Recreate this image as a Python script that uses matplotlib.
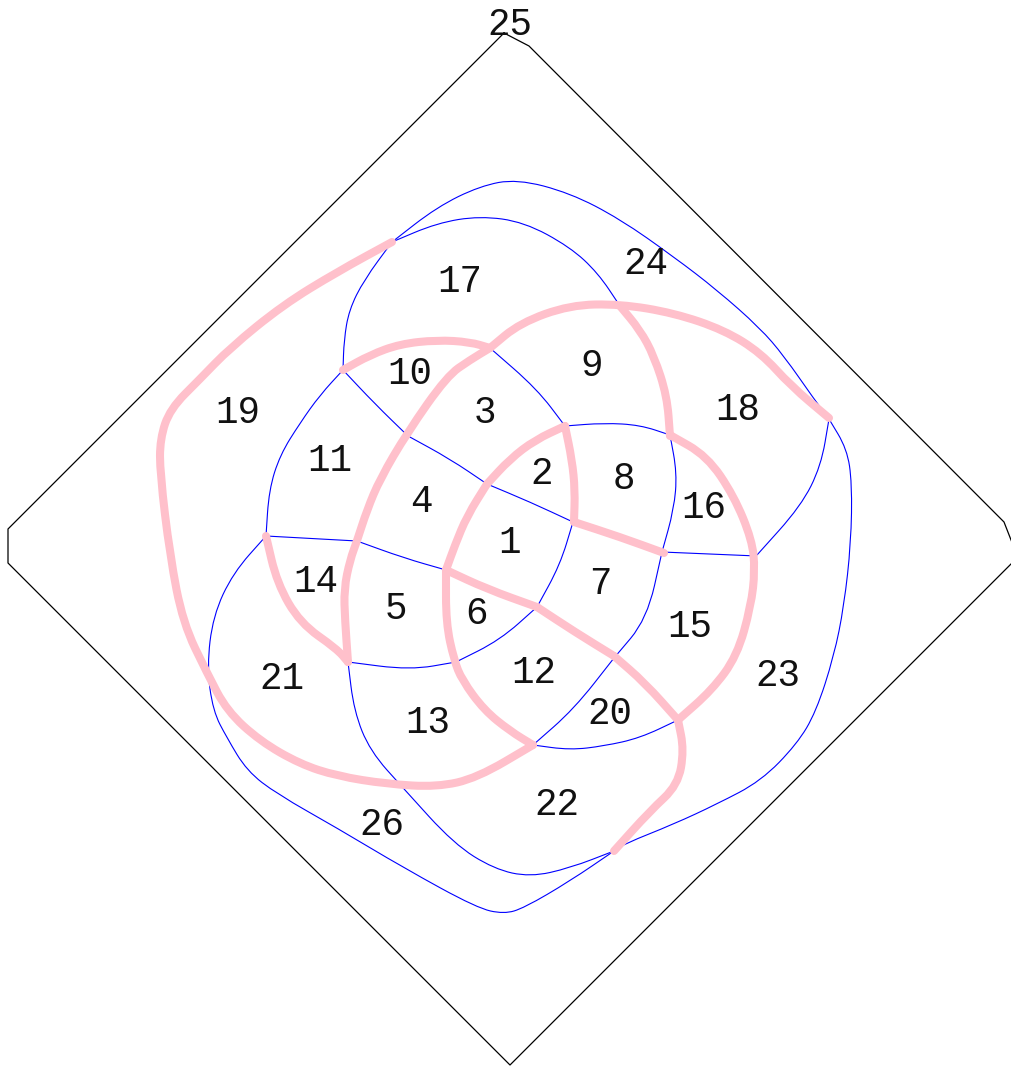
import numpy as np
import matplotlib
matplotlib.use('Agg')
import matplotlib.pyplot as plt
from matplotlib.path import Path
from matplotlib.patches import PathPatch

# region labels and their centres (pixel coords, y down)
region_labels = [str(i) for i in range(1, 27)]
label_x = [510, 542, 485, 421, 396, 477, 600, 624, 592, 410, 330, 534, 428,
           316, 690, 704, 460, 738, 238, 610, 282, 557, 778, 646, 510, 382]
label_y = [543, 474, 413, 502, 609, 614, 584, 479, 366, 374, 461, 673, 723,
           582, 627, 508, 282, 410, 413, 714, 679, 805, 676, 264, 25, 825]

# outer frame
outline_x = [504, 529, 1004, 1013, 1013, 510, 8, 8, 504]
outline_y = [33, 46, 522, 545, 562, 1065, 563, 529, 33]

# thin blue edges
blue_edges = [
    [(392, 242), (437, 207), (480, 186), (517, 179), (570, 193), (620, 219), (674, 257),
     (717, 290), (760, 328), (784, 356), (814, 399), (829, 419)],
    [(392, 242), (437, 223), (480, 216), (524, 222), (570, 247), (598, 273), (620, 306)],
    [(392, 242), (364, 280), (349, 310), (344, 340), (343, 370)],
    [(343, 370), (320, 395), (300, 423), (280, 455), (269, 490), (266, 536)],
    [(343, 370), (375, 404), (408, 436)],
    [(408, 436), (450, 459), (487, 484)],
    [(487, 484), (530, 502), (573, 522)],
    [(573, 522), (560, 565), (537, 607)],
    [(537, 607), (500, 640), (456, 662)],
    [(456, 662), (410, 670), (348, 662)],
    [(266, 536), (357, 541)],
    [(357, 541), (404, 558), (446, 570)],
    [(490, 348), (537, 389), (565, 426)],
    [(565, 426), (604, 423), (640, 425), (670, 435)],
    [(670, 435), (677, 473), (674, 509), (662, 552)],
    [(662, 552), (757, 556)],
    [(662, 552), (647, 619), (614, 658)],
    [(614, 658), (574, 709), (533, 745)],
    [(678, 720), (640, 738), (604, 746), (570, 750), (533, 745)],
    [(829, 419), (821, 466), (801, 506), (757, 555)],
    [(348, 662), (354, 711), (370, 751), (404, 789), (454, 844), (494, 869), (530, 877),
     (570, 868), (614, 851)],
    [(829, 419), (847, 449), (852, 483), (851, 543), (844, 606), (834, 656), (816, 712),
     (797, 744), (761, 781), (717, 804), (674, 824), (624, 844), (614, 851)],
    [(614, 851), (570, 881), (524, 908), (504, 914), (477, 908), (404, 868), (337, 828),
     (277, 794), (247, 771), (227, 738), (213, 711), (207, 667), (213, 616), (233, 573),
     (266, 536)],
]

# thick pink edges
pink_edges = [
    [(392, 242), (337, 272), (283, 305), (230, 348), (200, 379), (170, 409), (160, 439),
     (160, 473), (170, 556), (183, 623), (207, 673), (227, 711), (260, 741), (300, 764),
     (337, 776), (387, 784), (437, 787), (477, 778), (533, 745)],
    [(343, 370), (370, 355), (400, 344), (437, 340), (470, 342), (490, 348)],
    [(348, 662), (345, 620), (344, 589), (350, 560), (357, 541), (367, 510), (380, 479),
     (407, 433), (447, 376), (470, 360), (490, 348)],
    [(490, 348), (520, 323), (570, 305), (620, 304), (674, 313), (724, 330), (761, 353),
     (791, 386), (829, 418)],
    [(620, 306), (640, 330), (654, 356), (667, 396), (670, 436)],
    [(670, 435), (707, 456), (734, 496), (752, 540), (755, 570), (751, 606), (737, 656),
     (712, 690), (678, 720)],
    [(678, 720), (684, 750), (678, 785), (650, 811), (614, 851)],
    [(533, 745), (510, 731), (484, 710), (462, 680), (454, 660), (446, 623), (446, 570)],
    [(446, 570), (455, 545), (467, 516), (487, 484)],
    [(487, 484), (510, 459), (535, 440), (565, 426)],
    [(565, 426), (572, 460), (575, 490), (574, 522)],
    [(574, 522), (620, 537), (664, 553)],
    [(446, 570), (487, 589), (537, 607)],
    [(537, 607), (575, 632), (614, 656)],
    [(614, 656), (645, 683), (678, 720)],
    [(266, 536), (277, 583), (300, 623), (337, 649), (348, 662)],
]


def smooth_path(pts):
    # quadratic bezier through midpoints, read points act as control points
    pts = np.asarray(pts, float)
    if len(pts) < 3:
        return Path(pts)
    verts = [pts[0], (pts[0] + pts[1]) / 2]
    codes = [Path.MOVETO, Path.LINETO]
    for i in range(1, len(pts) - 1):
        verts += [pts[i], (pts[i] + pts[i + 1]) / 2]
        codes += [Path.CURVE3, Path.CURVE3]
    verts.append(pts[-1])
    codes.append(Path.LINETO)
    return Path(verts, codes)


fig = plt.figure(figsize=(10.11, 10.67), dpi=100)
ax = fig.add_axes([0, 0, 1, 1])
ax.set_xlim(0, 1011)
ax.set_ylim(1067, 0)
ax.axis('off')

ax.plot(outline_x, outline_y, color='black', lw=0.9)

for e in blue_edges:
    ax.add_patch(PathPatch(smooth_path(e), fill=False, edgecolor='#0000ff', lw=0.8))

for e in pink_edges:
    ax.add_patch(PathPatch(smooth_path(e), fill=False, edgecolor='pink', lw=5.8,
                           capstyle='round', joinstyle='round'))

for lab, x, y in zip(region_labels, label_x, label_y):
    ax.text(x, y, lab, ha='center', va='center', fontsize=27,
            family='Liberation Mono', color='#111111')

fig.savefig('out.png', dpi=100)
